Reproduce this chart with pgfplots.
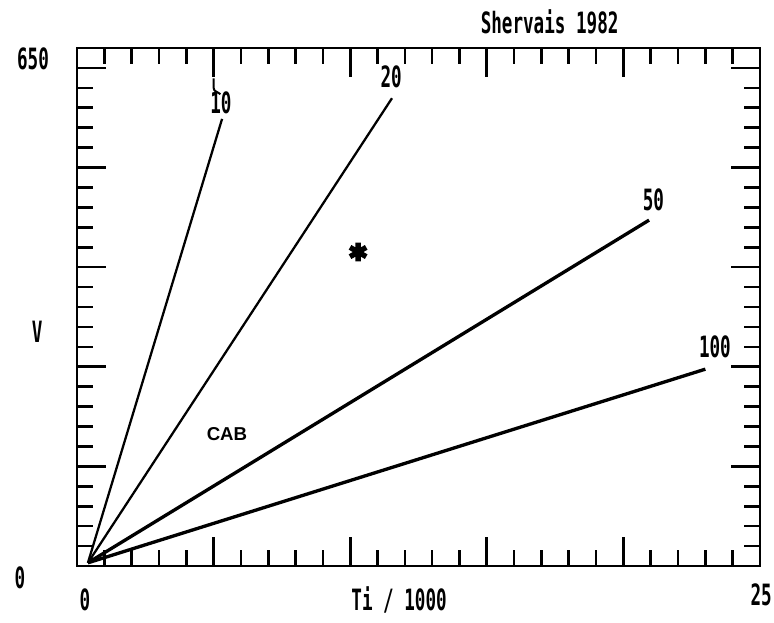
\documentclass[border=0pt]{standalone}
\usepackage{fontspec}
\usepackage{pgfplots}
\pgfplotsset{compat=1.18}
\newfontfamily\pix{DejaVu Sans Mono}[FakeStretch=0.6]
\newfontfamily\cab{Liberation Sans}
\begin{document}
\begin{tikzpicture}
\begin{axis}[
  at={(57.75pt,42.75pt)}, anchor=south west,
  scale only axis, width=512.25pt, height=388.5pt,
  xmin=0, xmax=25, ymin=0, ymax=650,
  clip=false,
  axis line style={line width=2.2pt},
  xtick={0,5,...,25}, minor x tick num=4,
  ytick={0,125,...,625}, minor y tick num=4,
  xticklabels={}, yticklabels={},
  tick align=inside, tick pos=both,
  major tick length=22pt, minor tick length=12pt,
  every tick/.style={black, line width=2pt},
  font=\pix\bfseries\fontsize{22}{22}\selectfont,
]
\addplot[black, line width=1.7pt] coordinates {(0.4,4) (5.31,561)};
\addplot[black, line width=1.7pt] coordinates {(0.4,4) (11.53,587)};
\addplot[black, line width=2.5pt] coordinates {(0.4,4) (20.94,434)};
\addplot[black, line width=2.5pt] coordinates {(0.4,4) (23.0,247)};
\addplot[only marks, mark=asterisk, mark size=7pt, line width=4pt, black] coordinates {(10.29,394)};
\draw[black, line width=1.5pt] (axis cs:5,612) -- (axis cs:5,600) to[out=-90,in=140] (axis cs:5.25,592);
\node at (axis cs:5.27,581) {10};
\node at (axis cs:11.5,614) {20};
\node at (axis cs:21.1,460) {50};
\node at (axis cs:23.35,275) {100};
\node[font=\cab\bfseries\fontsize{14}{15}\selectfont] at (axis cs:5.49,166) {CAB};
\node at (axis cs:-1.61,637) {650};
\node at (axis cs:-2.09,-15) {0};
\node at (axis cs:0.29,-42.7) {0};
\node at (axis cs:25.04,-36.4) {25};
\node at (axis cs:11.79,-42.7) {Ti / 1000};
\node at (axis cs:-1.46,293.6) {V};
\node at (axis cs:17.3,682.5) {Shervais 1982};
\end{axis}
\pgfresetboundingbox
\path (0,0) rectangle (580.5pt,467.25pt);
\end{tikzpicture}
\end{document}
